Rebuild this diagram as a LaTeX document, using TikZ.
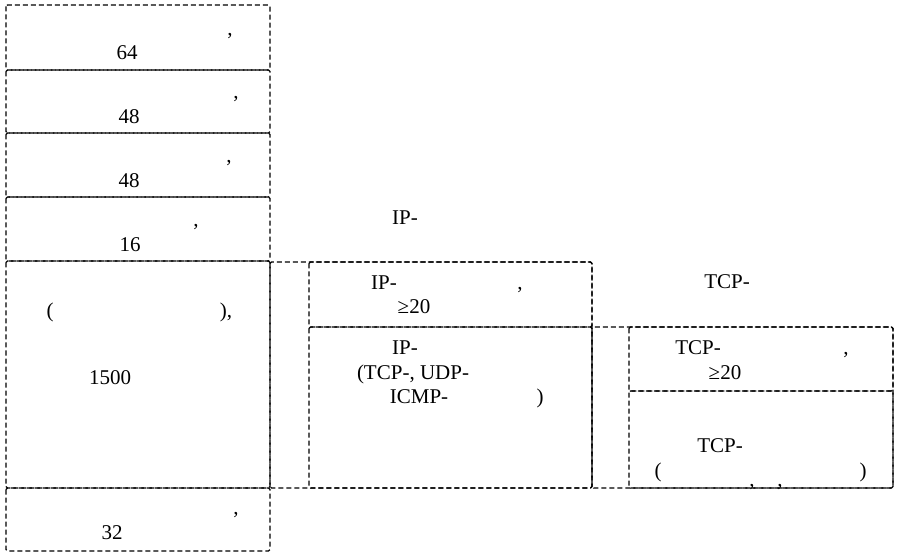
\documentclass[tikz,border=0pt]{standalone}
\usepackage{fontspec}
\setmainfont{Liberation Serif}
\begin{document}
\begin{tikzpicture}[x=1pt,y=-1pt,
  box/.style={draw=black,line width=1.2pt,dash pattern=on 5pt off 3pt,rounded corners=1.5pt},
  txt/.style={inner sep=0pt,anchor=base,font=\fontsize{21}{24}\selectfont}]
\useasboundingbox (0,0) rectangle (897,553);
% left column
\draw[box] (6,5) rectangle (270,70);
\draw[box] (6,70) rectangle (270,133);
\draw[box] (6,133) rectangle (270,197);
\draw[box] (6,197) rectangle (270,261);
\draw[box] (6,261) rectangle (270,488);
\draw[box] (6,488) rectangle (270,551);
% IP packet
\draw[box] (270,262) rectangle (592,488);
\draw[box] (309,262) rectangle (592,327);
\draw[box] (309,327) rectangle (592,488);
% TCP segment
\draw[box] (592,327) rectangle (893,488);
\draw[box] (629,327) rectangle (893,391);
\draw[box] (629,391) rectangle (893,488);
% texts left
\node[txt] (c1) at (230,36) {,};
\node[txt] (n1) at (127,60) {64};
\node[txt] (c2) at (236,99) {,};
\node[txt] (n2) at (129,124) {48};
\node[txt] (c3) at (229,163) {,};
\node[txt] (n3) at (129,188) {48};
\node[txt] (c4) at (196,227) {,};
\node[txt] (n4) at (130,252) {16};
\node[txt] (p1) at (50,318) {(};
\node[txt] (p2) at (226,318) {),};
\node[txt] (n5) at (110,384) {1500};
\node[txt] (c6) at (236,514) {,};
\node[txt] (n6) at (112,539) {32};
% texts IP
\node[txt] (ip) at (405,225) {IP-};
\node[txt] (iph) at (384,290) {IP-};
\node[txt] (iphc) at (520,290) {,};
\node[txt] (iphn) at (414,314) {≥20};
\node[txt] (ipp) at (405,355) {IP-};
\node[txt] (ipp2) at (413,379) {(TCP-, UDP-};
\node[txt] (ipp3) at (419,403) {ICMP-};
\node[txt] (ipp4) at (540,403) {)};
% texts TCP
\node[txt] (tcp) at (727,289) {TCP-};
\node[txt] (tcph) at (698,355) {TCP-};
\node[txt] (tcphc) at (846,355) {,};
\node[txt] (tcphn) at (725,379) {≥20};
\node[txt] (tcpp) at (720,452) {TCP-};
\node[txt] (tcpp1) at (658,477) {(};
\node[txt] (tcpp2) at (752,486) {,};
\node[txt] (tcpp3) at (780,486) {,};
\node[txt] (tcpp4) at (863,477) {)};
\end{tikzpicture}
\end{document}
